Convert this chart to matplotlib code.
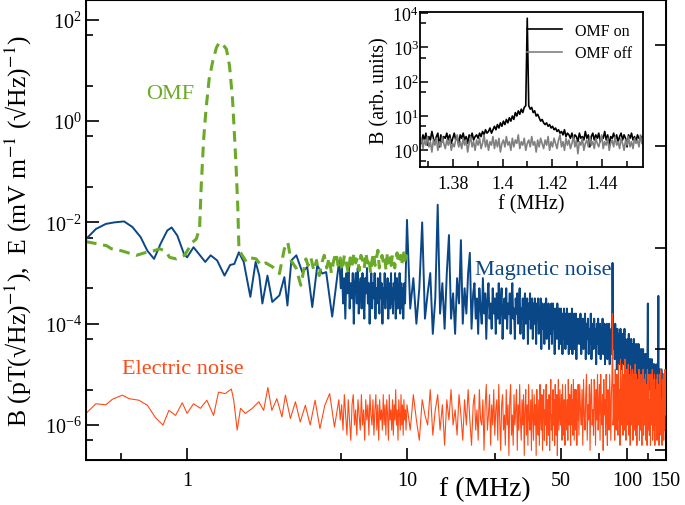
import numpy as np
import matplotlib
matplotlib.use("Agg")
import matplotlib.pyplot as plt
from matplotlib.ticker import FixedLocator, NullFormatter, LogFormatterSciNotation

plt.rcParams['font.family'] = ['Liberation Serif', 'DejaVu Serif']
plt.rcParams['mathtext.fontset'] = 'stix'

# ---------------- data (values are log10 of the spectral density) ----------------
# magnetic noise, low frequency part read point by point (MHz, log10 B)
blue_f_low = [0.347, 0.385, 0.427, 0.466, 0.517, 0.564, 0.615, 0.66, 0.708, 0.758,
              0.813, 0.851, 0.903, 0.968, 1.0, 1.07, 1.13, 1.21, 1.28, 1.37,
              1.48, 1.57, 1.64, 1.72, 1.81, 1.94, 2.05, 2.13, 2.20, 2.32,
              2.44, 2.63, 2.77, 2.86, 2.98, 3.14, 3.34, 3.52, 3.71, 3.91,
              4.12, 4.29, 4.57, 4.92]
blue_log_low = [-2.33, -2.13, -2.03, -2.00, -1.98, -2.09, -2.29, -2.56, -2.72, -2.42,
                -2.16, -2.10, -2.26, -2.62, -2.69, -2.49, -2.62, -2.78, -2.65, -2.75,
                -3.05, -2.84, -2.82, -2.59, -2.78, -3.47, -2.78, -3.05, -3.60, -3.05,
                -3.57, -3.44, -3.08, -3.64, -2.75, -2.65, -2.98, -2.88, -3.67, -2.85,
                -3.01, -2.98, -3.86, -2.75]
# evenly sampled stretches: (start MHz, stop MHz) and the values read in them
blue_mid_range = (5.0, 9.8)
blue_log_mid = [
    -3.3, -2.9, -3.6, -3.1, -3.9, -3.0, -3.4, -2.8, -3.7, -3.2,
    -3.5, -3.0, -4.0, -3.2, -3.0, -3.6, -2.9, -3.8, -3.3, -3.1,
    -3.7, -3.0, -3.5, -3.9, -3.1, -3.4, -2.9, -3.6, -3.2, -4.0,
    -3.3, -3.0, -3.7, -3.2, -3.5, -3.0, -3.9, -3.3, -3.6, -3.1,
    -3.4, -3.8, -3.0, -3.5, -3.2, -4.0, -3.3, -3.6, -3.0, -3.7,
    -3.3, -3.5, -3.1, -3.9, -3.4, -3.2, -3.7, -3.0, -3.6, -3.3,
    -3.8, -3.2, -3.5, -3.0, -3.9, -3.4, -3.1, -3.7, -3.3, -3.6,
    -3.0, -3.8, -3.4, -3.2, -3.7, -3.3, -3.9, -3.5, -3.2, -3.6]
blue_r1 = (10.0, 20.0)
blue_log_r1 = [
    -1.95, -3.7, -3.1, -4.0, -3.3, -2.0, -3.9, -3.4, -3.0, -4.2,
    -3.5, -1.65, -3.8, -3.2, -4.1, -3.0, -2.25, -3.9, -3.4, -4.2,
    -3.1, -3.6, -2.35, -4.0, -3.3, -3.8, -3.0, -2.6, -4.1, -3.4]
blue_r2 = (20.27, 60.0)
blue_log_r2 = [
    -3.2, -3.9, -3.5, -4.2, -3.3, -3.7, -4.0, -3.1, -3.8, -3.4,
    -4.3, -3.5, -3.2, -3.9, -3.6, -4.1, -3.3, -3.8, -3.5, -4.2,
    -3.4, -3.9, -3.2, -4.0, -3.6, -3.3, -4.3, -3.7, -3.5, -3.9,
    -3.3, -4.1, -3.6, -3.8, -3.4, -4.2, -3.5, -3.2, -3.9, -3.7,
    -4.3, -3.5, -3.8, -3.4, -4.0, -3.6, -3.3, -4.2, -3.7, -3.9,
    -3.5, -4.3, -3.6, -3.4, -4.0, -3.8, -3.5, -4.4, -3.6, -3.9,
    -3.4, -4.1, -3.7, -3.5, -4.3, -3.6, -4.0, -3.5, -3.8, -4.4,
    -3.6, -3.9, -3.5, -4.2, -3.7, -4.0, -3.5, -4.5, -3.8, -3.6,
    -4.1, -3.7, -4.4, -3.6, -3.9, -3.5, -4.3, -3.8, -4.0, -3.6,
    -4.5, -3.7, -3.9, -4.2, -3.6, -4.4, -3.8, -3.6, -4.1, -3.9,
    -4.6, -3.7, -4.0, -3.8, -4.3, -3.6, -4.1, -3.9, -4.5, -3.7,
    -4.0, -4.4, -3.7, -4.2, -3.9, -4.6, -3.8, -4.0, -3.7, -4.3,
    -3.9, -4.5, -3.8, -4.1, -3.7, -4.4, -4.0, -3.8, -4.6, -3.9,
    -4.2, -3.8, -4.5, -3.9, -4.1, -3.7, -4.6, -4.0, -3.9, -4.3,
    -3.8, -4.5, -4.0, -4.2, -3.8, -4.7, -3.9, -4.1, -4.4, -3.9]
blue_r3 = (60.5, 150.0)
blue_log_r3 = [
    -4.0, -4.4, -3.8, -4.6, -4.1, -3.9, -4.5, -4.2, -3.8, -4.7,
    -4.0, -4.3, -3.9, -4.6, -4.1, -4.4, -3.8, -4.7, -4.2, -4.0,
    -4.5, -3.9, -4.3, -4.1, -4.8, -4.0, -4.4, -3.9, -4.6, -4.2,
    -4.0, -4.7, -4.1, -4.4, -3.9, -4.6, -4.2, -4.0, -4.8, -4.1,
    -4.3, -4.0, -4.7, -4.2, -4.5, -4.0, -4.8, -4.2, -4.4, -4.1,
    -4.6, -2.8, -4.1, -4.5, -4.2, -4.7, -4.0, -4.4, -4.2, -4.9,
    -4.1, -4.5, -4.3, -4.8, -4.2, -4.6, -4.1, -4.9, -4.3, -4.5,
    -4.2, -4.8, -4.4, -4.6, -4.1, -5.0, -4.3, -4.7, -4.4, -4.5,
    -4.9, -4.3, -4.6, -4.2, -5.0, -4.5, -4.4, -4.8, -4.3, -4.7,
    -4.5, -5.1, -4.4, -4.7, -4.3, -4.9, -4.6, -4.4, -5.0, -4.5,
    -4.7, -4.4, -5.1, -4.6, -4.8, -4.4, -5.0, -4.7, -4.5, -5.2,
    -4.6, -4.9, -4.5, -5.1, -4.7, -4.8, -4.5, -5.2, -4.7, -4.9,
    -4.6, -5.1, -4.8, -4.6, -5.3, -4.7, -5.0, -4.6, -3.6, -5.2,
    -4.8, -5.0, -4.7, -5.3, -4.9, -4.7, -5.2, -4.8, -5.0, -4.7,
    -5.3, -4.9, -5.1, -4.8, -5.4, -5.0, -4.8, -5.2, -4.9, -5.4,
    -5.0, -5.2, -4.8, -5.5, -5.0, -5.3, -4.9, -3.45, -5.5, -5.1,
    -5.0, -5.3, -4.9, -5.5, -5.1, -5.2, -4.9, -5.6, -5.1, -5.3,
    -5.0, -5.5, -5.2, -5.4, -5.0, -5.6, -5.2, -5.4, -5.1, -5.5]

# electric noise (MHz, log10 E)
red_f_low = [0.347, 0.385, 0.427, 0.458, 0.508, 0.545, 0.604, 0.660, 0.720, 0.777,
             0.827, 0.887, 0.951, 1.00, 1.07, 1.15, 1.23, 1.32, 1.39, 1.49,
             1.59, 1.63, 1.69, 1.75, 1.84, 1.98, 2.12, 2.23, 2.33, 2.43,
             2.56, 2.70, 2.80, 2.95, 3.11, 3.27, 3.45, 3.63, 3.82, 4.02,
             4.23, 4.45, 4.68]
red_log_low = [-5.77, -5.58, -5.60, -5.49, -5.41, -5.48, -5.51, -5.61, -5.86, -6.00,
               -5.71, -5.81, -5.56, -5.77, -5.58, -5.67, -5.51, -5.81, -5.35, -5.38,
               -5.29, -5.51, -6.10, -5.67, -5.77, -5.67, -5.54, -5.71, -5.26, -5.71,
               -5.48, -5.84, -5.41, -5.87, -5.54, -5.94, -5.61, -6.00, -5.51, -6.07,
               -5.61, -5.38, -6.04]
red_mid_range = (4.9, 9.9)
red_log_mid = [
    -5.5, -5.9, -5.6, -6.1, -5.4, -5.8, -6.2, -5.5, -5.9, -6.3,
    -5.6, -5.4, -6.0, -5.7, -6.2, -5.5, -5.8, -6.1, -5.4, -6.0,
    -5.7, -6.3, -5.5, -5.9, -5.6, -6.2, -5.4, -5.8, -6.0, -5.5,
    -6.2, -5.7, -5.4, -6.1, -5.6, -6.3, -5.5, -5.9, -5.7, -6.1,
    -5.4, -6.0, -5.6, -6.2, -5.5, -5.8, -6.3, -5.4, -5.9, -5.7,
    -6.1, -5.5, -6.2, -5.6, -5.9, -5.3, -6.0, -5.7, -6.3, -5.5,
    -5.8, -6.1, -5.4, -6.0, -5.6, -6.2, -5.5, -5.9, -5.7, -6.1]
red_r1 = (10.0, 20.0)
red_log_r1 = [
    -5.6, -6.1, -5.4, -5.9, -6.3, -5.5, -5.8, -6.0, -5.3, -6.2,
    -5.7, -5.4, -6.1, -5.6, -6.4, -5.5, -5.9, -5.3, -6.0, -5.7,
    -6.2, -5.4, -5.8, -6.3, -5.5, -6.0, -5.3, -5.9, -6.4, -5.6]
red_r2 = (20.27, 60.0)
red_log_r2 = [
    -5.4, -6.1, -5.7, -6.3, -5.3, -5.9, -6.0, -5.5, -6.5, -5.6,
    -5.2, -6.1, -5.8, -5.4, -6.4, -5.6, -6.0, -5.3, -6.2, -5.7,
    -5.5, -6.3, -5.2, -5.9, -6.5, -5.6, -5.4, -6.1, -5.8, -6.4,
    -5.3, -6.0, -5.6, -6.6, -5.5, -5.2, -6.2, -5.8, -6.4, -5.4,
    -6.0, -5.7, -5.3, -6.5, -5.6, -6.1, -5.2, -5.9, -6.3, -5.5,
    -6.0, -5.4, -6.6, -5.7, -5.3, -6.2, -5.6, -6.4, -5.2, -5.9,
    -6.1, -5.5, -6.5, -5.3, -5.8, -6.3, -5.4, -6.0, -5.6, -6.6,
    -5.3, -5.9, -6.2, -5.5, -6.4, -5.2, -5.8, -6.1, -5.4, -6.5,
    -5.6, -5.3, -6.3, -5.7, -6.0, -5.2, -6.4, -5.5, -5.9, -6.2,
    -5.4, -6.5, -5.6, -5.1, -6.1, -5.8, -6.3, -5.3, -6.0, -5.5,
    -6.4, -5.2, -5.9, -6.2, -5.4, -6.6, -5.6, -5.1, -6.1, -5.7,
    -5.3, -6.0, -5.9, -5.4, -6.3, -5.2, -5.7, -6.2, -5.5, -5.8,
    -6.4, -5.2, -5.6, -6.0, -6.1, -5.5, -6.3, -5.1, -5.8, -6.0,
    -5.4, -5.6, -6.4, -5.3, -5.2, -6.0, -5.5, -6.2, -5.1, -5.7,
    -6.3, -5.3, -5.6, -6.1, -5.3, -5.4, -6.4, -5.5, -5.9, -5.2]
red_r3 = (60.5, 150.0)
red_log_r3 = [
    -6.2, -5.2, -5.7, -6.0, -5.3, -6.4, -5.1, -5.8, -6.1, -5.4,
    -5.0, -6.3, -5.6, -5.9, -5.2, -6.5, -5.4, -5.1, -6.0, -5.7,
    -6.2, -5.1, -5.5, -6.4, -5.3, -5.9, -5.0, -6.1, -5.6, -5.2,
    -6.3, -5.0, -5.7, -6.0, -5.4, -6.5, -5.1, -5.8, -5.5, -6.2,
    -5.0, -5.9, -6.4, -5.3, -5.6, -6.1, -5.0, -5.7, -6.3, -5.4,
    -5.1, -3.8, -6.0, -5.8, -5.2, -6.3, -4.9, -5.7, -6.1, -5.0,
    -5.5, -6.2, -4.8, -5.9, -5.3, -6.4, -4.7, -5.6, -6.0, -5.1,
    -4.8, -6.2, -5.4, -5.0, -6.1, -4.7, -5.8, -6.3, -5.2, -4.9,
    -6.0, -5.3, -4.8, -6.2, -5.5, -5.0, -6.4, -4.9, -5.7, -6.0,
    -5.1, -4.9, -6.3, -5.4, -5.0, -6.1, -5.6, -4.8, -6.2, -5.3,
    -5.0, -6.4, -5.5, -5.1, -6.0, -5.7, -4.9, -6.3, -5.4, -5.2,
    -6.1, -5.0, -5.6, -6.4, -5.2, -5.8, -4.9, -6.2, -5.5, -5.1,
    -6.0, -5.3, -5.0, -6.3, -5.6, -5.2, -6.4, -4.9, -5.7, -6.1,
    -5.2, -5.0, -6.2, -5.5, -5.8, -6.4, -5.0, -5.6, -6.0, -5.3,
    -4.9, -6.3, -5.4, -5.1, -6.1, -5.7, -5.0, -6.4, -5.3, -5.8,
    -6.0, -5.1, -5.5, -6.3, -5.0, -5.9, -6.2, -5.2, -5.6, -6.4,
    -5.0, -5.8, -6.1, -5.3, -4.9, -6.2, -5.5, -5.7, -6.4, -5.1,
    -5.4, -6.0, -5.0, -6.3, -5.6, -5.2, -6.1, -4.9, -5.8, -5.5]

# OMF field (dashed green)
green_f_low = [0.347, 0.388, 0.431, 0.453, 0.503, 0.588, 0.653, 0.707, 0.750, 0.80,
               0.833, 0.893, 0.974, 1.06, 1.10, 1.14, 1.16, 1.19, 1.22, 1.26,
               1.31, 1.36, 1.40, 1.45, 1.51, 1.56, 1.61, 1.64, 1.67, 1.70,
               1.72, 1.73, 1.86, 1.95, 2.06, 2.17, 2.28, 2.45, 2.63, 2.77,
               2.87, 2.97, 3.13, 3.29, 3.47]
green_log_low = [-2.38, -2.42, -2.46, -2.52, -2.56, -2.65, -2.59, -2.56, -2.52, -2.57,
                 -2.69, -2.72, -2.65, -2.39, -2.33, -2.13, -1.27, -0.35, 0.24, 0.83,
                 1.19, 1.45, 1.55, 1.52, 1.42, 1.09, 0.43, -0.22, -0.88, -1.67,
                 -2.46, -2.56, -2.78, -2.70, -2.72, -2.85, -2.80, -2.88, -3.01, -2.52,
                 -2.39, -2.75, -2.90, -3.24, -2.72]
green_mid_range = (3.55, 10.0)
green_log_mid = [
    -2.85, -2.7, -2.95, -2.75, -3.05, -2.8, -2.65, -2.9, -2.7, -3.0,
    -2.75, -2.6, -2.85, -2.7, -2.95, -2.65, -2.8, -3.0, -2.7, -2.85,
    -2.6, -2.8, -2.7, -2.95, -2.65, -2.75, -2.9, -2.6, -2.8, -2.7,
    -3.0, -2.75, -2.6, -2.85, -2.7, -2.55, -2.9, -2.75, -2.65, -2.8,
    -2.7, -2.95, -2.6, -2.8, -2.7, -2.85, -2.65, -2.75, -2.9, -2.7,
    -2.6, -2.8, -2.7, -2.65, -2.85, -2.7, -2.6, -2.75, -2.65, -2.7]

# inset: narrow band around the OMF frequency (MHz, log10 B in arb. units)
inset_range = (1.3667, 1.4561)
omf_on_log = [
    0.35, 0.2, 0.45, 0.3, 0.5, 0.15, 0.4, 0.3, 0.55, 0.35,
    0.2, 0.4, 0.5, 0.1, 0.45, 0.25, 0.4, 0.35, 0.5, 0.3,
    0.45, 0.2, 0.35, 0.5, 0.3, 0.4, 0.15, 0.45, 0.35, 0.5,
    0.3, 0.4, 0.2, 0.45, 0.35, 0.5, 0.3, 0.4, 0.45, 0.35,
    0.5, 0.4, 0.55, 0.45, 0.6, 0.5, 0.55, 0.65, 0.5, 0.6,
    0.7, 0.6, 0.75, 0.65, 0.8, 0.7, 0.85, 0.75, 0.9, 0.8,
    0.95, 0.85, 1.0, 0.9, 1.1, 1.0, 1.15, 1.05, 1.2, 1.1,
    1.25, 1.3, 3.85, 1.3, 1.2, 1.25, 1.1, 1.15, 1.0, 1.05,
    0.95, 0.85, 0.9, 0.8, 0.75, 0.8, 0.7, 0.75, 0.65, 0.7,
    0.6, 0.65, 0.55, 0.6, 0.5, 0.55, 0.45, 0.6, 0.4, 0.5,
    0.45, 0.35, 0.5, 0.3, 0.45, 0.4, 0.25, 0.5, 0.35, 0.4,
    0.3, 0.55, 0.35, 0.45, 0.1, 0.4, 0.5, 0.3, 0.45, 0.35,
    0.5, 0.25, 0.4, 0.35, 0.55, 0.3, 0.45, 0.15, 0.4, 0.35,
    0.5, 0.3, 0.45, 0.25, 0.4, 0.5, 0.3, 0.45, 0.35, 0.1,
    0.45, 0.35, 0.5, 0.3, 0.4, 0.25, 0.45, 0.35, 0.3, 0.4]
omf_off_log = [
    0.2, 0.35, 0.05, 0.3, 0.15, 0.4, 0.1, 0.25, -0.05, 0.3,
    0.15, 0.35, 0.0, 0.25, 0.1, 0.4, 0.2, 0.05, 0.3, 0.15,
    0.35, 0.0, 0.2, 0.1, 0.3, 0.45, 0.1, 0.25, 0.05, 0.35,
    0.15, 0.3, -0.05, 0.2, 0.4, 0.1, 0.25, 0.0, 0.3, 0.15,
    0.35, 0.05, 0.2, 0.45, 0.1, 0.3, 0.0, 0.25, 0.15, 0.4,
    0.05, 0.3, 0.1, 0.35, -0.05, 0.2, 0.3, 0.1, 0.4, 0.15,
    0.25, 0.0, 0.35, 0.1, 0.3, 0.2, 0.45, 0.05, 0.25, 0.15,
    0.35, 0.0, 0.2, 0.3, 0.1, 0.4, 0.15, 0.25, -0.05, 0.3,
    0.1, 0.35, 0.2, 0.05, 0.3, 0.15, 0.4, 0.0, 0.25, 0.1,
    0.35, 0.2, 0.05, 0.3, 0.45, 0.1, 0.25, 0.0, 0.35, 0.15,
    0.3, 0.05, 0.2, 0.4, 0.1, 0.3, -0.1, 0.25, 0.15, 0.35,
    0.0, 0.2, 0.3, 0.1, 0.4, 0.15, 0.25, 0.05, 0.35, 0.2,
    0.1, 0.3, 0.45, 0.05, 0.25, 0.15, 0.35, 0.0, 0.2, 0.3,
    0.1, 0.4, 0.15, 0.25, 0.05, 0.35, 0.2, 0.0, 0.3, 0.15,
    0.4, 0.1, 0.25, 0.05, 0.35, 0.2, 0.3, 0.1, 0.45, 0.2]

x_major = [1, 10, 50, 100, 150]
x_minor = [0.5, 5, 25, 75, 125]

BLUE = '#0a4787'
RED = '#ff4a16'
GREEN = '#6aaa28'


def build(f_pts, log_pts, *stretches):
    # point-by-point part followed by evenly sampled stretches
    f = list(f_pts)
    v = list(log_pts)
    for rng, vals in stretches:
        f += list(np.linspace(rng[0], rng[1], len(vals)))
        v += list(vals)
    return np.array(f), 10.0 ** np.array(v)


fig = plt.figure(figsize=(6.85, 5.06), dpi=100)
ax = fig.add_axes([0.1255, 0.0889, 0.8467, 0.909])

bf, bv = build(blue_f_low, blue_log_low, (blue_mid_range, blue_log_mid),
               (blue_r1, blue_log_r1), (blue_r2, blue_log_r2), (blue_r3, blue_log_r3))
rf, rv = build(red_f_low, red_log_low, (red_mid_range, red_log_mid),
               (red_r1, red_log_r1), (red_r2, red_log_r2), (red_r3, red_log_r3))
gf, gv = build(green_f_low, green_log_low, (green_mid_range, green_log_mid))

ax.plot(bf, bv, color=BLUE, lw=1.4, zorder=2)
ax.plot(rf, rv, color=RED, lw=0.8, zorder=3)
ax.plot(gf, gv, color=GREEN, lw=2.2, ls=(0, (3.5, 2.2)), zorder=4)

ax.set_xscale('log')
ax.set_yscale('log')
ax.set_xlim(0.347, 150.5)
ax.set_ylim(2.04e-7, 245)

ax.xaxis.set_major_locator(FixedLocator(x_major))
ax.xaxis.set_minor_locator(FixedLocator(x_minor))
ax.set_xticklabels([str(v) for v in x_major])
ax.xaxis.set_minor_formatter(NullFormatter())
ax.yaxis.set_major_locator(FixedLocator([1e-6, 1e-4, 1e-2, 1, 1e2]))
ax.yaxis.set_minor_locator(FixedLocator([5 * 10.0 ** k for k in range(-7, 2)]))
ax.yaxis.set_major_formatter(LogFormatterSciNotation())
ax.yaxis.set_minor_formatter(NullFormatter())
ax.tick_params(which='both', direction='in', top=False, right=False, width=1.2, labelsize=14.5)
ax.tick_params(which='major', length=9)
ax.tick_params(which='minor', length=5)
ax.tick_params(axis='x', pad=8)
ax.tick_params(axis='y', pad=3)
for s in ax.spines.values():
    s.set_linewidth(1.4)

ax.set_xlabel('f (MHz)', fontsize=20, va='top')
ax.xaxis.set_label_coords(0.688, -0.035)
ax.set_ylabel('B (pT(\u221aHz)$^{-1}$),  E (mV m$^{-1}$ (\u221aHz)$^{-1}$)', fontsize=18.5)
ax.yaxis.set_label_coords(-0.089, 0.5)

ax.text(0.842, 3.55, 'OMF', color=GREEN, fontsize=16, ha='center', va='center')
ax.text(41.8, 10 ** -2.92, 'Magnetic noise', color=BLUE, fontsize=16, ha='center', va='center')
ax.text(0.954, 10 ** -4.89, 'Electric noise', color=RED, fontsize=16, ha='center', va='center')

# extra inward ticks on the right spine
tw = ax.twinx()
tw.set_yscale('log')
tw.set_ylim(ax.get_ylim())
tw.yaxis.set_major_locator(FixedLocator([10 ** 1.5, 10 ** -0.5, 10 ** -2.5, 10 ** -4.5, 10 ** -6.5]))
tw.yaxis.set_minor_locator(FixedLocator([]))
tw.yaxis.set_major_formatter(NullFormatter())
tw.tick_params(which='major', direction='in', length=8, width=1.2)

# inset
ins = fig.add_axes([0.6131, 0.668, 0.3255, 0.3069])
fi = np.linspace(inset_range[0], inset_range[1], len(omf_on_log))
ins.plot(fi, 10.0 ** np.array(omf_on_log), color='black', lw=1.2, label='OMF on')
ins.plot(fi, 10.0 ** np.array(omf_off_log), color='#808080', lw=1.2, label='OMF off')
ins.set_yscale('log')
ins.set_xlim(1.3667, 1.4565)
ins.set_ylim(0.326, 1.1e4)
ins.xaxis.set_major_locator(FixedLocator([1.38, 1.40, 1.42, 1.44]))
ins.xaxis.set_minor_locator(FixedLocator([1.37, 1.39, 1.41, 1.43, 1.45]))
ins.set_xticklabels(['1.38', '1.4', '1.42', '1.44'])
ins.yaxis.set_major_locator(FixedLocator([1, 10, 100, 1000, 10000]))
ins.yaxis.set_minor_locator(FixedLocator([0.5, 5, 50, 500, 5000]))
ins.yaxis.set_major_formatter(LogFormatterSciNotation())
ins.yaxis.set_minor_formatter(NullFormatter())
ins.tick_params(which='both', direction='in', top=False, right=False, width=1.1, labelsize=13)
ins.tick_params(which='major', length=6)
ins.tick_params(which='minor', length=4)
ins.tick_params(axis='x', pad=6)
ins.tick_params(axis='y', pad=1)
for s in ins.spines.values():
    s.set_linewidth(1.3)
ins.set_xlabel('f (MHz)', fontsize=14.5, labelpad=1)
ins.set_ylabel('B (arb. units)', fontsize=14.5, labelpad=2)
ins.legend(loc='upper right', frameon=False, fontsize=11.5, handlelength=2.2,
           borderaxespad=0.3, labelspacing=0.4)

fig.savefig('out.png', dpi=100)
